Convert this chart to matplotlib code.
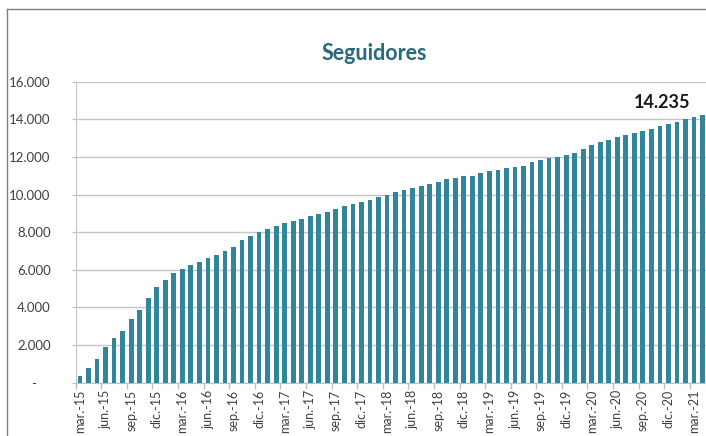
import matplotlib
matplotlib.use("Agg")
import matplotlib.pyplot as plt
from matplotlib.lines import Line2D
import numpy as np

plt.rcParams['font.family'] = ['Lato', 'DejaVu Sans']

title = "Seguidores"
last_label = "14.235"

# monthly followers, mar-15 .. abr-21
seguidores = [
    350, 760, 1240, 1880, 2350, 2760, 3400, 3860, 4500, 5080,
    5460, 5810, 6020, 6240, 6430, 6620, 6770, 7010, 7230, 7580,
    7790, 8020, 8150, 8310, 8500, 8610, 8720, 8860, 8980, 9090,
    9210, 9390, 9500, 9620, 9730, 9870, 9990, 10120, 10220, 10370,
    10450, 10560, 10650, 10810, 10860, 10970, 11000, 11130, 11250, 11300,
    11410, 11480, 11520, 11710, 11830, 11940, 11990, 12100, 12190, 12400,
    12630, 12790, 12930, 13060, 13180, 13250, 13360, 13470, 13640, 13750,
    13840, 14000, 14140, 14235,
]

tick_labels = [
    "mar.-15", "jun.-15", "sep.-15", "dic.-15",
    "mar.-16", "jun.-16", "sep.-16", "dic.-16",
    "mar.-17", "jun.-17", "sep.-17", "dic.-17",
    "mar.-18", "jun.-18", "sep.-18", "dic.-18",
    "mar.-19", "jun.-19", "sep.-19", "dic.-19",
    "mar.-20", "jun.-20", "sep.-20", "dic.-20",
    "mar.-21",
]

y_ticks = [0, 2000, 4000, 6000, 8000, 10000, 12000, 14000, 16000]
y_tick_labels = ["-    ", "2.000", "4.000", "6.000", "8.000", "10.000", "12.000", "14.000", "16.000"]

W, H = 706, 436
fig = plt.figure(figsize=(W / 100, H / 100), dpi=100)
fig.patch.set_facecolor("white")

ax_left = 75.7 / W
ax_bottom = (H - 382.6) / H
ax_top = (H - 81.8) / H
ax = fig.add_axes([ax_left, ax_bottom, 1.0 - ax_left, ax_top - ax_bottom])

x = np.arange(len(seguidores))
ax.bar(x, seguidores, width=0.56, color="#31869B", edgecolor="none", zorder=3)

ax.set_xlim(-0.5, 73.4)
ax.set_ylim(0, 16000)

ax.set_yticks(y_ticks)
ax.set_yticklabels(y_tick_labels, fontsize=9.5, color="#404040")
ax.tick_params(axis="y", length=3, color="#BFBFBF", pad=15)
ax.yaxis.grid(True, color="#C4C4C4", linewidth=1.0, zorder=0)
ax.set_axisbelow(True)

tick_pos = x[::3][:len(tick_labels)]
ax.set_xticks(tick_pos)
ax.set_xticklabels(tick_labels, rotation=90, fontsize=9, color="#404040")
ax.tick_params(axis="x", length=0, pad=5)
ax.set_xticks(np.arange(-0.5, len(seguidores), 3), minor=True)
ax.tick_params(axis="x", which="minor", length=4, color="#BFBFBF", width=1)

for s in ["top", "right"]:
    ax.spines[s].set_visible(False)
ax.spines["left"].set_color("#C4C4C4")
ax.spines["bottom"].set_color("#BFBFBF")

ax.annotate(last_label, xy=(x[-1], seguidores[-1]), xytext=(-41, 12),
            textcoords="offset pixels", ha="center", va="center",
            fontsize=13, fontweight="bold", color="#1A1A1A")

fig.text(374 / W, (H - 54) / H, title, ha="center", va="center",
         fontsize=15.5, fontweight="bold", color="#266A7C")

# outer chart border (left and top visible)
fig.add_artist(Line2D([7 / W, 7 / W], [0, (H - 9) / H], transform=fig.transFigure,
                      color="#7F7F7F", linewidth=1.0))
fig.add_artist(Line2D([7 / W, 1], [(H - 9) / H, (H - 9) / H], transform=fig.transFigure,
                      color="#7F7F7F", linewidth=1.0))

fig.savefig("out.png", dpi=100)
